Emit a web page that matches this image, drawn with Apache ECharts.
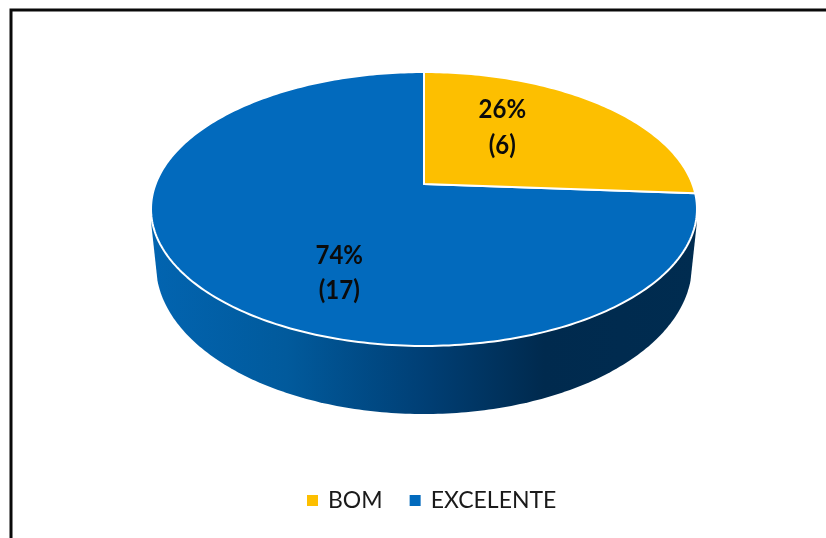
<!DOCTYPE html>
<html>
<head>
<meta charset="utf-8">
<style>
html,body{margin:0;padding:0;background:#fff}
#chart{width:826px;height:538px}
</style>
<script src="https://cdn.jsdelivr.net/npm/echarts@6/dist/echarts.min.js"></script>
</head>
<body>
<div id="chart"></div>
<script>
// Survey answers
const categories = ['BOM', 'EXCELENTE'];
const counts = [6, 17];
const sliceColors = ['#FDBF00', '#026ABD'];

// Perspective view of the pie's top face
const HUB = { x: 424, y: 184 };
const SCALE_X = 268.4, SCALE_Y = 132.4, TILT = 0.1825;
// Lower rim of the pie's side wall
const BASE = { x: 424, y: 265, rx: 268, ry: 149 };
const WALL_LEFT = 151, WALL_RIGHT = 697, WALL_TOP = 212, WALL_SHOULDER = 226;
// Where each label sits: fraction of the radius, and extra vertical shift
const labelPlacement = [
  { radius: 0.42, shiftY: -20 },
  { radius: 0.41, shiftY: 50 }
];

const total = counts.reduce((a, b) => a + b, 0);

// Circle point at angle a (clockwise from 12 o'clock), radius r, in screen space
function project(a, r) {
  const u = Math.sin(a) * r, v = -Math.cos(a) * r;
  const w = 1 - TILT * v;
  return [HUB.x + SCALE_X * u / w, HUB.y + SCALE_Y * v / w];
}

function sectorPoints(a0, a1) {
  const pts = [[HUB.x, HUB.y]];
  const n = Math.ceil((a1 - a0) / (Math.PI / 180));
  for (let i = 0; i <= n; i++) pts.push(project(a0 + (a1 - a0) * i / n, 1));
  return pts;
}

function wallPoints() {
  const pts = [[WALL_LEFT, WALL_TOP], [WALL_LEFT + 0.5, WALL_SHOULDER]];
  for (let i = 174; i >= 6; i--) {
    const t = i * Math.PI / 180;
    pts.push([BASE.x + BASE.rx * Math.cos(t), BASE.y + BASE.ry * Math.sin(t)]);
  }
  pts.push([WALL_RIGHT - 0.5, WALL_SHOULDER], [WALL_RIGHT, WALL_TOP]);
  return pts;
}

function renderSlice(index) {
  return function (params, api) {
    const value = api.value(0);
    const before = counts.slice(0, index).reduce((a, b) => a + b, 0);
    const a0 = before / total * Math.PI * 2;
    const a1 = (before + value) / total * Math.PI * 2;
    const place = labelPlacement[index];
    const anchor = project((a0 + a1) / 2, place.radius);
    const children = [];
    if (index === 1) {
      children.push({
        type: 'polygon',
        shape: { points: wallPoints() },
        style: {
          fill: new echarts.graphic.LinearGradient(0, 0, 1, 0, [
            { offset: 0, color: '#0264B0' },
            { offset: 0.25, color: '#015A9C' },
            { offset: 0.5, color: '#003F75' },
            { offset: 0.72, color: '#002A4E' },
            { offset: 1, color: '#002C50' }
          ])
        }
      });
    }
    children.push({
      type: 'polygon',
      shape: { points: sectorPoints(a0, a1) },
      style: { fill: sliceColors[index], stroke: '#FFFFFF', lineWidth: 2, lineJoin: 'round' }
    });
    children.push({
      type: 'text',
      x: anchor[0],
      y: anchor[1] + place.shiftY,
      scaleY: 1.08,
      style: {
        text: Math.round(value / total * 100) + '%\n(' + value + ')',
        fill: '#0B0B0B',
        font: 'bold 24px Lato',
        lineHeight: 33,
        align: 'center',
        verticalAlign: 'middle'
      }
    });
    return { type: 'group', children };
  };
}

const chart = echarts.init(document.getElementById('chart'), null, { renderer: 'canvas' });
chart.setOption({
  animation: false,
  backgroundColor: '#FFFFFF',
  legend: {
    data: categories,
    left: 302,
    top: 484,
    icon: 'rect',
    itemWidth: 11,
    itemHeight: 11,
    itemGap: 27,
    textStyle: { fontFamily: 'Lato', fontSize: 23, color: '#1A1A1A', padding: [0, 0, 0, 5] }
  },
  graphic: [{
    type: 'rect',
    shape: { x: 11, y: 10, width: 900, height: 700 },
    style: { fill: 'transparent', stroke: '#0A0A0A', lineWidth: 3 },
    silent: true
  }],
  series: categories.map((name, i) => ({
    type: 'custom',
    name,
    coordinateSystem: 'none',
    itemStyle: { color: sliceColors[i] },
    renderItem: renderSlice(i),
    data: [[counts[i]]],
    z: i === 1 ? 2 : 3
  }))
});
</script>
</body>
</html>
